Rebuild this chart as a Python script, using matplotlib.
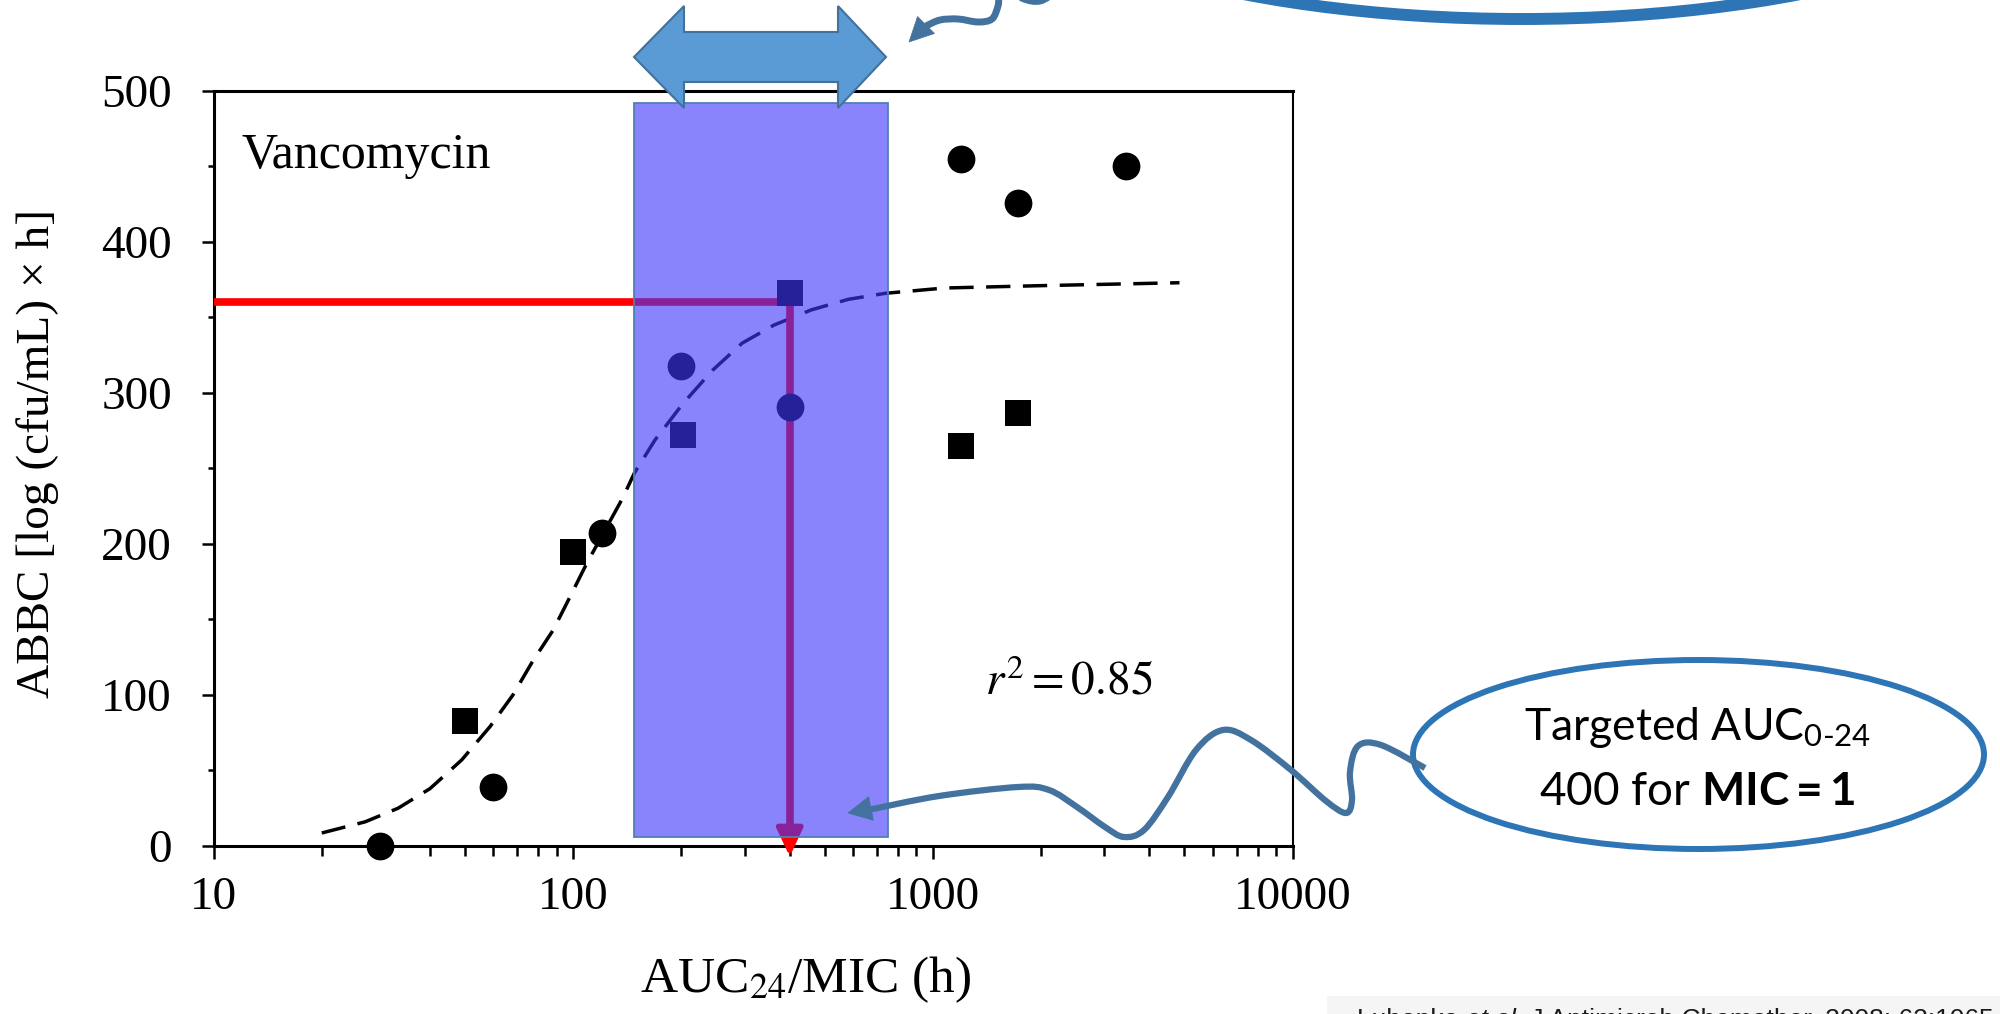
import numpy as np
import matplotlib
matplotlib.use("Agg")
import matplotlib.pyplot as plt
from matplotlib.patches import Rectangle, Ellipse, Polygon, PathPatch
from matplotlib.path import Path
from matplotlib.ticker import LogLocator, NullFormatter, MultipleLocator

plt.rcParams['mathtext.fontset'] = 'custom'
plt.rcParams['mathtext.rm'] = 'Lato'
plt.rcParams['mathtext.it'] = 'Lato:italic'
plt.rcParams['mathtext.bf'] = 'Lato:bold'

# values
circle_auc = [29, 60, 120, 200, 400, 1200, 1720, 3450]
circle_abbc = [0, 39, 207, 318, 291, 455, 426, 450]
square_auc = [50, 100, 202, 400, 1200, 1720]
square_abbc = [83, 195, 272, 366, 265, 287]
fit_auc = [20, 26.4, 32.6, 40, 49, 58.7, 68, 77, 88, 98, 109, 137, 148, 169,
           202, 244, 295, 362, 459, 582, 738, 1077, 1942, 4850]
fit_abbc = [8.6, 16, 25, 38, 57, 79, 100, 122, 143, 165, 187, 230, 247, 269,
            293, 315, 333, 345, 355, 362, 366, 369.5, 371, 373]
x_ticks = [10, 100, 1000, 10000]
x_tick_labels = ["10", "100", "1000", "10000"]
y_ticks = [0, 100, 200, 300, 400, 500]
target_auc = 400
target_abbc = 360
window_auc = (148, 750)
window_abbc = (6, 492)

SERIF = 'Liberation Serif'
OUTLINE = '#2E75B6'
CONNECT = '#44729F'


def smooth_path(pts):
    """Catmull-Rom style bezier through hand-placed points (decoration only)."""
    pts = np.asarray(pts, float)
    verts = [pts[0]]
    codes = [Path.MOVETO]
    for i in range(len(pts) - 1):
        p0 = pts[max(i - 1, 0)]
        p1, p2 = pts[i], pts[i + 1]
        p3 = pts[min(i + 2, len(pts) - 1)]
        verts += [p1 + (p2 - p0) / 6, p2 - (p3 - p1) / 6, p2]
        codes += [Path.CURVE4] * 3
    return Path(verts, codes)


def arrow_head(ax, tip, base, width, color):
    tip = np.array(tip, float)
    base = np.array(base, float)
    d = tip - base
    n = np.array([-d[1], d[0]]) / np.hypot(*d) * width / 2
    ax.add_patch(Polygon([tip, base + n, base - n], closed=True,
                         facecolor=color, edgecolor=color, lw=0.5))


fig = plt.figure(figsize=(20, 10.14), dpi=100)
ax = fig.add_axes([0.10675, 0.1657, 0.5395, 0.7446])

ax.set_xscale('log')
ax.set_xlim(10, 10000)
ax.set_ylim(0, 500)

ax.plot(fit_auc, fit_abbc, color='black', lw=2.5, ls=(0, (7, 3.6)), zorder=3)
ax.plot(circle_auc, circle_abbc, 'o', color='black', ms=20, mew=0,
        zorder=4, clip_on=False)
ax.plot(square_auc, square_abbc, 's', color='black', ms=19, mew=0,
        zorder=4, clip_on=False)

# target lines
ax.plot([10, target_auc, target_auc], [target_abbc, target_abbc, 12],
        color='red', lw=5.5, zorder=3, solid_joinstyle='miter', solid_capstyle='butt')
ax.annotate("", xy=(target_auc, -7), xytext=(target_auc, 14),
            arrowprops=dict(arrowstyle='-|>,head_length=17,head_width=8',
                            mutation_scale=1, color='red', lw=4,
                            shrinkA=0, shrinkB=0),
            annotation_clip=False, zorder=3)

ax.add_patch(Rectangle((window_auc[0], window_abbc[0]),
                       window_auc[1] - window_auc[0],
                       window_abbc[1] - window_abbc[0],
                       facecolor=(63 / 255, 55 / 255, 250 / 255, 0.616),
                       edgecolor='#4F7FB5', lw=1.3, zorder=6))

ax.text(0.026, 0.898, "Vancomycin", transform=ax.transAxes, family=SERIF,
        fontsize=36, va='baseline', ha='left')
ax.text(0.7146, 0.2, r"$r^2 = 0.85$", transform=ax.transAxes, family=SERIF,
        math_fontfamily='stix', fontsize=34, va='baseline', ha='left')

# axes styling
ax.set_xticks(x_ticks)
ax.set_xticklabels(x_tick_labels)
ax.xaxis.set_minor_locator(LogLocator(base=10, subs=np.arange(2, 10)))
ax.xaxis.set_minor_formatter(NullFormatter())
ax.set_yticks(y_ticks)
ax.yaxis.set_minor_locator(MultipleLocator(50))
ax.tick_params(axis='both', which='major', direction='out', length=9,
               width=1.8, labelsize=34)
ax.tick_params(axis='x', which='minor', direction='out', length=7, width=1.8)
ax.tick_params(axis='y', which='minor', direction='out', length=4.3, width=1.8)
ax.tick_params(axis='y', which='major', pad=21)
ax.tick_params(axis='x', which='major', pad=13)
for lab in ax.get_xticklabels() + ax.get_yticklabels():
    lab.set_family(SERIF)
for side in ['left', 'bottom', 'top']:
    ax.spines[side].set_linewidth(2.2)
ax.spines['right'].set_linewidth(1.5)

fig.text(38 / 2000, 1 - 453 / 1014, "ABBC [log (cfu/mL) × h]", family=SERIF,
         fontsize=34, rotation=90, ha='center', va='center')
fig.text(806 / 2000, 1 - 992 / 1014, r"AUC$_{24}$/MIC (h)", family=SERIF,
         math_fontfamily='stix', fontsize=37, ha='center', va='baseline')

# overlay for the slide decorations, in pixel units (y down)
ov = fig.add_axes([0, 0, 1, 1], zorder=10)
ov.set_xlim(0, 2000)
ov.set_ylim(1014, 0)
ov.axis('off')
ov.patch.set_alpha(0)

# double-headed block arrow over the window
ov.add_patch(Polygon([(634, 57), (684, 6), (684, 32), (838, 32), (838, 6),
                      (886, 57), (838, 108), (838, 82), (684, 82), (684, 108)],
                     closed=True, facecolor='#5B9BD5', edgecolor='#41719C', lw=1.5))

# top callout ellipse (mostly off the page)
ov.add_patch(Ellipse((1522, -158), 1088, 354, fill=False, edgecolor=OUTLINE, lw=8.6))
ov.add_patch(PathPatch(smooth_path([(1056, -8), (1040, 1), (1024, -1), (1010, -10),
                                    (1000, -6), (998, 6), (992, 19), (978, 22),
                                    (958, 19), (940, 20), (926, 26)]),
                       fill=False, edgecolor=CONNECT, lw=5, capstyle='butt'))
arrow_head(ov, (909, 42), (926, 25), 24, CONNECT)

# bottom callout
ov.add_patch(Ellipse((1698.5, 754.5), 571, 189, facecolor='white',
                     edgecolor=OUTLINE, lw=4.3))
ov.add_patch(PathPatch(smooth_path([(1425, 768), (1381, 745), (1358, 746), (1350, 772),
                                    (1352, 800), (1346, 813), (1326, 801), (1291, 770),
                                    (1251, 740), (1223, 730), (1196, 750), (1168, 797),
                                    (1144, 830), (1124, 837), (1105, 827), (1077, 807),
                                    (1049, 790), (1018, 787), (939, 796), (868, 810)]),
                       fill=False, edgecolor=CONNECT, lw=4.5, capstyle='butt'))
arrow_head(ov, (848, 813), (871, 808.5), 24, CONNECT)
ov.text(1697, 740, r"Targeted AUC$_{\text{0-24}}$", family='Lato', fontsize=32,
        ha='center', va='baseline')
ov.text(1697, 805, r"400 for $\mathbf{MIC = 1}$", family='Lato', fontsize=33,
        ha='center', va='baseline')

# citation strip
ov.add_patch(Rectangle((1327, 996), 700, 30, facecolor='#F5F5F5', edgecolor='none'))
t1 = ov.text(1357, 1027, "Lubenko ", family='Liberation Sans', fontsize=19,
             color='#1a1a1a', va='baseline')
t2 = ov.annotate("et al.", xy=(1, 0), xycoords=t1, family='Liberation Sans',
                 style='italic', fontsize=19, color='#1a1a1a', va='bottom')
ov.annotate(" J Antimicrob Chemother. 2008; 62:1065", xy=(1, 0), xycoords=t2,
            family='Liberation Sans', fontsize=19, color='#1a1a1a', va='bottom')

fig.savefig('out.png', dpi=100)
